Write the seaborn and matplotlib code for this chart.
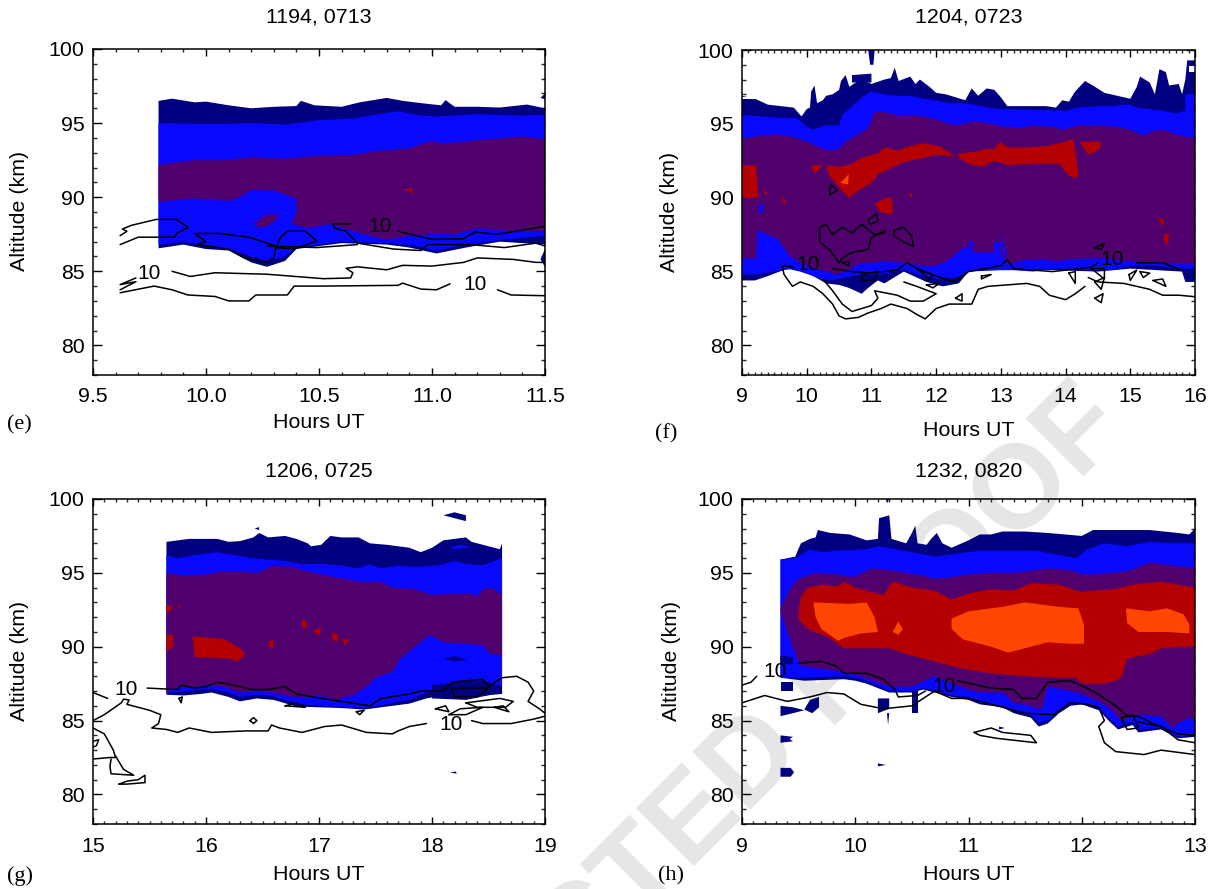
import matplotlib
matplotlib.use('Agg')
import matplotlib.pyplot as plt
import seaborn as sns

# values: (hours UT, altitude km)
navy = '#000080'
blue = '#0808ff'
purple = '#4f006c'
red = '#b40000'
orange = '#ff4500'

# ---- panel e
e_navy_top = [(9.79,96.5),(9.85,96.65),(9.95,96.4),(10.0,96.45),(10.1,96.2),(10.2,96.0),(10.3,96.1),(10.4,96.15),(10.42,96.5),(10.48,96.2),(10.6,96.1),(10.68,96.4),(10.8,96.7),(10.87,96.5),(10.95,96.35),(11.04,96.2),(11.06,96.55),(11.1,96.1),(11.2,96.1),(11.3,96.05),(11.42,96.25),(11.5,96.0)]
e_navy_bot = [(9.79,86.55),(9.9,86.8),(10.0,86.5),(10.1,86.4),(10.2,85.6),(10.27,85.3),(10.35,85.7),(10.4,86.5),(10.6,86.9),(10.8,86.8),(10.9,86.6),(11.02,86.2),(11.15,86.6),(11.3,87.0),(11.5,86.8)]
e_blue_top = [(9.79,95.0),(9.95,94.95),(10.1,94.95),(10.2,95.0),(10.35,94.9),(10.5,95.2),(10.65,95.3),(10.72,95.5),(10.85,95.8),(10.95,95.5),(11.03,95.45),(11.2,95.6),(11.4,95.5),(11.5,95.55)]
e_blue_bot = [(9.79,86.8),(9.9,87.0),(10.0,86.7),(10.1,86.5),(10.2,86.0),(10.27,85.7),(10.35,86.0),(10.4,86.6),(10.6,87.0),(10.8,86.9),(10.9,86.8),(11.02,86.4),(11.15,86.8),(11.3,87.1),(11.5,87.4)]
e_purple_top = [(9.79,92.2),(9.95,92.5),(10.1,92.5),(10.2,92.7),(10.35,92.6),(10.5,92.8),(10.65,92.85),(10.75,93.1),(10.9,93.3),(11.0,93.8),(11.05,93.6),(11.2,93.85),(11.4,94.1),(11.5,93.9)]
e_purple_bot = [(9.79,89.7),(9.95,89.9),(10.1,89.75),(10.15,90.0),(10.2,90.5),(10.3,90.45),(10.4,89.9),(10.4,89.0),(10.38,88.2),(10.45,87.9),(10.55,88.2),(10.65,87.7),(10.8,87.1),(10.9,87.4),(11.0,87.5),(11.1,87.5),(11.2,87.9),(11.35,87.7),(11.5,87.7)]
e_spots = [
    (purple, [(10.21,88.2),(10.27,88.85),(10.33,88.8),(10.29,88.2),(10.24,87.9)]),
    (red, [(10.87,90.5),(10.91,90.6),(10.92,90.2),(10.9,90.4)]),
    (navy, [(11.48,96.7),(11.5,97.0),(11.5,96.6)]),
    (navy, [(11.48,85.8),(11.5,86.5),(11.5,85.3)]),
]
e_lines = [
    [(9.62,86.8),(9.7,87.3),(9.86,87.3),(9.87,87.55),(9.92,87.95),(9.87,88.5),(9.78,88.5),(9.67,88.1),(9.63,87.85),(9.65,87.7),(9.62,87.4)],
    [(9.95,87.55),(10.0,87.0),(9.96,86.8),(10.1,86.5),(10.17,85.9),(10.27,85.6),(10.3,85.9),(10.31,86.7),(10.19,87.3),(10.06,87.55),(9.95,87.55)],
    [(10.64,88.2),(10.56,88.2),(10.57,87.9),(10.62,87.7),(10.67,86.9),(10.83,86.5),(10.95,86.4),(10.98,86.8),(11.17,86.8),(11.32,86.6),(11.46,86.9),(11.5,86.7)],
    [(10.33,87.3),(10.36,87.7),(10.44,87.7),(10.49,87.05),(10.39,86.5),(10.31,86.6),(10.33,87.3)],
    [(10.27,86.7),(10.49,86.6),(10.67,86.8)],
    [(10.85,87.7),(11.0,87.15),(11.14,87.2),(11.19,87.65),(11.29,87.5),(11.39,87.75),(11.5,88.05)],
    [(9.62,83.75),(9.69,84.3),(9.62,84.1),(9.69,84.55)],
    [(9.85,85.0),(9.93,84.65),(10.04,84.9),(10.27,84.8),(10.52,84.5),(10.64,84.55),(10.65,84.9),(10.62,85.2),(10.67,85.3),(10.8,85.1),(10.87,85.4),(11.0,85.35),(11.14,85.6),(11.2,85.9),(11.36,85.8),(11.46,85.6),(11.5,85.6)],
    [(9.62,83.55),(9.77,84.0),(9.85,83.75),(9.92,83.4),(10.04,83.3),(10.1,83.0),(10.19,83.0),(10.22,83.4),(10.36,83.4),(10.39,84.0),(10.51,84.0),(10.85,84.05),(10.87,84.2),(10.95,83.8),(11.02,83.75),(11.08,84.15)],
    [(11.29,83.75),(11.35,83.4),(11.5,83.35)],
]
e_labels = [(10.77,88.0),(9.75,84.85),(11.19,84.1)]

# ---- panel f
f_navy_top = [(9.0,96.9),(9.2,96.7),(9.4,96.3),(9.6,96.2),(9.8,96.1),(9.92,95.5),(10.0,96.0),(10.05,96.1),(10.07,97.2),(10.12,97.6),(10.16,96.4),(10.25,96.6),(10.3,96.9),(10.4,97.0),(10.5,97.3),(10.53,97.9),(10.6,98.3),(10.66,97.5),(10.72,97.7),(10.85,98.0),(11.0,97.7),(11.2,98.0),(11.3,98.1),(11.36,98.8),(11.42,97.9),(11.6,98.2),(11.68,97.7),(11.75,98.0),(11.9,97.5),(12.0,97.1),(12.15,97.0),(12.3,96.8),(12.45,96.6),(12.55,97.4),(12.65,96.9),(12.78,97.4),(12.9,97.3),(13.0,96.8),(13.1,96.2),(13.3,96.2),(13.7,96.2),(13.85,96.1),(13.95,96.6),(14.05,96.5),(14.15,97.2),(14.3,97.9),(14.42,97.6),(14.6,97.1),(14.8,96.9),(15.0,96.7),(15.1,97.5),(15.15,98.2),(15.3,97.8),(15.38,97.0),(15.45,98.7),(15.55,98.5),(15.6,97.6),(15.75,97.7),(15.8,97.0),(15.85,98.0),(15.88,99.3),(16.0,99.3)]
f_navy_bot = [(9.0,84.4),(9.2,84.4),(9.4,84.7),(9.7,85.2),(9.9,85.0),(10.1,84.7),(10.3,84.2),(10.5,84.1),(10.65,83.9),(10.85,83.5),(10.95,83.9),(11.1,84.4),(11.2,84.2),(11.5,85.0),(11.85,84.3),(12.1,84.0),(12.35,84.2),(12.5,85.0),(13.0,85.1),(13.8,85.1),(14.5,85.0),(15.0,85.2),(15.8,85.0),(15.85,84.3),(16.0,84.3)]
f_blue_top = [(9.0,95.6),(9.3,95.5),(9.6,95.4),(9.85,95.4),(10.0,94.8),(10.1,94.6),(10.3,94.9),(10.5,94.9),(10.55,95.6),(10.75,96.4),(10.85,96.8),(11.0,97.2),(11.2,97.0),(11.4,96.9),(11.6,96.9),(11.8,96.7),(12.0,96.6),(12.2,96.4),(12.4,96.4),(12.6,96.3),(12.8,96.1),(13.0,96.0),(13.2,96.0),(13.8,95.9),(14.0,95.9),(14.2,96.1),(14.5,96.2),(14.7,96.2),(14.9,96.3),(15.0,96.3),(15.1,96.1),(15.3,96.0),(15.5,95.9),(15.7,95.7),(15.85,95.9),(15.85,97.0),(16.0,97.0)]
f_blue_bot = [(9.0,84.8),(9.2,84.8),(9.5,85.0),(9.8,85.2),(10.0,84.9),(10.2,84.5),(10.4,84.4),(10.6,84.6),(10.85,84.8),(11.1,84.8),(11.5,85.1),(11.8,84.7),(12.05,84.5),(12.3,84.6),(12.5,85.0),(12.8,85.1),(13.2,85.1),(13.5,85.0),(13.8,85.2),(14.0,85.2),(14.4,85.1),(14.7,85.1),(15.0,85.4),(15.4,85.4),(15.8,85.2),(16.0,85.2)]
f_purple_top = [(9.0,94.0),(9.3,94.2),(9.55,94.3),(9.8,94.1),(10.0,93.8),(10.2,93.4),(10.35,93.2),(10.5,93.3),(10.6,93.8),(10.8,94.3),(10.95,94.7),(11.05,95.8),(11.2,95.8),(11.4,95.6),(11.6,95.6),(11.8,95.5),(12.0,95.3),(12.2,95.0),(12.35,94.9),(12.6,95.2),(12.85,95.0),(13.05,94.8),(13.3,94.7),(13.5,94.9),(13.8,94.8),(13.95,94.6),(14.2,94.9),(14.5,94.9),(14.8,94.8),(15.0,94.6),(15.2,94.2),(15.35,94.5),(15.5,94.6),(15.7,94.3),(15.85,94.1),(16.0,94.1)]
f_purple_bot = [(9.0,85.9),(9.22,85.9),(9.24,87.8),(9.4,87.5),(9.55,87.2),(9.75,86.0),(9.9,85.6),(10.1,85.2),(10.3,85.0),(10.45,84.8),(10.6,85.0),(10.8,85.5),(11.0,85.6),(11.2,85.7),(11.5,85.6),(11.8,85.4),(12.0,85.4),(12.2,85.8),(12.3,86.2),(12.45,86.7),(12.6,86.3),(12.8,86.3),(13.0,86.3),(13.1,85.5),(13.2,85.6),(13.4,85.8),(13.7,85.8),(13.9,85.7),(14.0,85.8),(14.4,85.9),(14.6,85.9),(14.9,85.7),(15.2,85.7),(15.5,85.6),(15.8,85.5),(16.0,85.5)]
f_spots = [
    (red, [(10.3,92.2),(10.5,92.1),(10.7,92.3),(10.85,92.7),(11.1,93.0),(11.2,93.4),(11.4,93.2),(11.6,93.5),(11.8,93.7),(11.9,93.6),(12.05,93.5),(12.15,93.2),(12.3,92.8),(12.0,92.9),(11.7,92.6),(11.5,92.4),(11.3,92.0),(11.1,91.6),(11.0,91.0),(10.8,90.5),(10.65,90.0),(10.5,90.7),(10.35,91.5)]),
    (red, [(12.35,93.0),(12.6,93.1),(12.75,93.3),(12.9,93.3),(13.0,93.8),(13.1,93.4),(13.4,93.4),(13.7,93.5),(14.0,93.8),(14.12,94.0),(14.18,92.2),(14.2,91.5),(14.15,91.3),(14.05,91.5),(13.9,92.3),(13.5,92.3),(13.1,92.2),(12.9,92.5),(12.7,92.1),(12.5,92.3),(12.35,92.7)]),
    (red, [(9.0,92.2),(9.22,92.2),(9.25,90.0),(9.0,90.0)]),
    (red, [(10.07,92.2),(10.25,92.2),(10.12,91.6)]),
    (red, [(11.05,89.6),(11.25,90.0),(11.32,90.0),(11.33,88.9),(11.15,89.0)]),
    (red, [(14.22,93.8),(14.55,93.8),(14.53,93.3),(14.35,92.9)]),
    (red, [(9.33,90.6),(9.4,90.3),(9.35,90.2)]),
    (red, [(9.6,90.2),(9.68,89.7),(9.65,89.5)]),
    (red, [(15.43,88.7),(15.52,88.5),(15.5,88.0)]),
    (red, [(15.52,87.6),(15.6,87.5),(15.57,86.8),(15.53,86.9)]),
    (red, [(11.58,90.3),(11.64,90.2),(11.6,90.0)]),
    (orange, [(10.52,91.0),(10.65,91.6),(10.64,90.9)]),
    (blue, [(9.27,89.6),(9.33,89.6),(9.33,89.0),(9.27,89.0)]),
    (blue, [(12.5,87.1),(12.57,87.1),(12.57,86.3),(12.5,86.3)]),
    (blue, [(12.9,87.0),(13.0,87.0),(13.0,86.3),(12.9,86.3)]),
    (blue, [(13.0,87.7),(13.05,86.0),(13.1,86.0)]),
    (navy, [(10.95,100.0),(11.05,100.0),(11.03,99.0),(10.98,99.0)]),
    (navy, [(10.7,98.3),(11.0,98.4),(11.0,97.8),(10.7,97.8)]),
    ('white', [(9.0,96.85),(9.2,96.85),(9.2,96.65),(9.0,96.65)]),
    ('white', [(15.9,98.9),(16.0,98.9),(16.0,98.5),(15.9,98.5)]),
]
f_lines = [
    [(9.62,85.4),(9.65,84.8),(9.78,84.0),(9.9,84.3),(10.1,84.0),(10.25,83.5),(10.4,82.8),(10.5,82.0),(10.6,81.8),(10.8,81.9),(10.95,82.2),(11.15,82.5),(11.3,82.8),(11.55,82.5),(11.7,82.1),(11.83,81.8),(12.0,82.5),(12.2,82.8),(12.55,82.8),(12.65,83.8),(12.8,84.0),(13.1,84.1),(13.4,84.2),(13.6,84.0),(13.75,83.4),(14.0,83.1),(14.15,83.5),(14.3,84.0)],
    [(14.35,84.6),(14.5,84.3),(14.9,84.2),(15.1,84.0),(15.3,83.8),(15.5,83.4),(15.75,83.4),(16.0,83.3)],
    [(9.62,85.4),(9.8,85.3)],
    [(10.4,85.2),(10.7,85.0),(11.0,84.9),(11.4,85.1),(11.55,85.6),(11.8,85.0),(12.0,84.7),(12.3,84.3),(12.5,85.0),(13.0,85.4),(13.1,85.8),(13.2,85.2),(13.8,85.0),(14.2,85.2),(14.4,85.3),(14.5,85.6)],
    [(15.1,85.6),(15.5,85.6),(15.8,85.1)],
    [(10.25,84.5),(10.4,83.7),(10.55,82.8),(10.7,82.3),(11.0,82.7),(11.1,83.2),(11.05,83.7),(11.4,83.4),(11.6,83.0),(11.8,83.0),(12.0,83.5),(11.7,84.0),(11.5,84.3)],
    [(10.5,85.6),(10.35,86.5),(10.2,87.0),(10.2,88.0),(10.3,88.2),(10.4,87.5),(10.55,88.0),(10.7,87.6),(10.85,88.2),(11.05,87.5),(11.2,87.6),(11.22,87.8),(11.0,87.3),(10.95,86.5),(10.7,86.3),(10.55,85.9),(10.5,85.6)],
    [(11.35,87.8),(11.5,88.0),(11.62,87.4),(11.65,86.7),(11.5,87.0),(11.35,87.4),(11.35,87.8)],
    [(10.95,88.5),(11.08,88.9),(11.1,88.4),(10.98,88.2),(10.95,88.5)],
    [(10.35,90.5),(10.38,90.9),(10.47,90.5),(10.36,90.2),(10.35,90.5)],
    [(10.55,85.6),(10.65,85.7),(10.65,85.4),(10.55,85.6)],
    [(10.85,84.8),(11.1,85.0),(11.05,84.4),(10.85,84.4),(10.85,84.8)],
    [(11.7,85.2),(11.95,84.8),(11.9,84.5),(11.7,85.2)],
    [(11.85,84.1),(12.05,84.2),(11.95,83.9),(11.85,84.1)],
    [(12.3,83.2),(12.4,83.5),(12.4,83.0),(12.3,83.2)],
    [(12.7,84.7),(12.85,84.8),(12.7,84.5),(12.7,84.7)],
    [(14.05,84.9),(14.15,85.0),(14.15,84.2),(14.05,84.9)],
    [(14.4,85.2),(14.6,85.2),(14.6,84.5),(14.4,85.2)],
    [(14.45,84.3),(14.6,84.6),(14.55,83.8),(14.45,84.3)],
    [(14.45,83.2),(14.58,83.5),(14.55,82.9),(14.45,83.2)],
    [(14.45,86.6),(14.6,86.9),(14.55,86.5),(14.45,86.6)],
    [(14.98,84.8),(15.1,85.1),(15.0,84.4),(14.98,84.8)],
    [(15.15,85.0),(15.3,84.9),(15.2,84.6),(15.15,85.0)],
    [(15.35,84.4),(15.5,84.5),(15.55,84.0),(15.35,84.4)],
]
f_labels = [(10.02,85.45),(14.72,85.85)]

# ---- panel g
g_navy_top = [(15.65,97.1),(15.75,97.2),(15.85,97.3),(16.0,97.3),(16.1,97.3),(16.2,97.1),(16.3,97.15),(16.42,97.4),(16.47,97.7),(16.55,97.4),(16.7,97.5),(16.8,97.3),(16.9,97.0),(16.93,96.8),(17.02,96.9),(17.1,97.5),(17.2,97.4),(17.35,97.4),(17.45,97.0),(17.6,96.9),(17.8,96.7),(17.9,96.4),(18.0,96.7),(18.1,97.2),(18.2,97.3),(18.3,97.4),(18.35,97.1),(18.5,96.8),(18.6,96.6),(18.62,97.0)]
g_navy_bot = [(15.65,86.75),(15.8,86.7),(15.95,86.8),(16.05,86.9),(16.2,86.6),(16.3,86.3),(16.45,86.5),(16.6,86.4),(16.8,85.95),(17.0,85.9),(17.2,85.85),(17.4,85.75),(17.6,85.95),(17.8,86.15),(17.95,86.5),(18.1,86.7),(18.3,86.6),(18.62,86.8)]
g_blue_top = [(15.65,96.2),(15.75,96.0),(15.9,96.2),(16.1,96.4),(16.25,96.2),(16.4,96.0),(16.55,95.9),(16.7,95.8),(16.85,95.6),(17.05,95.6),(17.2,95.5),(17.35,95.3),(17.45,95.6),(17.55,95.3),(17.7,95.5),(17.85,95.4),(18.05,95.5),(18.2,95.8),(18.3,95.6),(18.45,95.5),(18.62,96.0)]
g_blue_bot = [(15.65,86.85),(15.8,86.95),(15.95,87.1),(16.05,87.15),(16.2,86.9),(16.3,86.6),(16.45,86.75),(16.6,86.65),(16.8,86.15),(17.0,86.0),(17.2,85.9),(17.4,85.85),(17.6,86.1),(17.8,86.4),(17.95,86.9),(18.1,87.0),(18.3,87.3),(18.62,87.4)]
g_purple_top = [(15.65,95.0),(15.8,94.8),(16.0,94.9),(16.15,95.1),(16.3,95.1),(16.45,95.0),(16.6,95.5),(16.75,95.4),(16.95,95.0),(17.15,94.7),(17.35,94.4),(17.55,94.4),(17.65,94.0),(17.85,93.9),(18.0,93.5),(18.2,93.6),(18.35,93.6),(18.4,93.4),(18.47,94.0),(18.55,93.9),(18.62,93.5)]
g_purple_bot = [(15.65,86.9),(15.75,87.3),(15.85,87.2),(16.0,87.4),(16.15,87.3),(16.3,86.9),(16.45,87.0),(16.6,86.9),(16.75,86.6),(16.9,86.6),(17.0,86.7),(17.15,86.4),(17.3,86.7),(17.42,87.3),(17.5,87.9),(17.65,88.3),(17.72,89.2),(17.85,90.0),(17.98,90.8),(18.1,90.3),(18.3,90.2),(18.45,90.1),(18.52,89.5),(18.62,89.4)]
g_spots = [
    (red, [(15.65,92.8),(15.69,92.8),(15.7,92.5),(15.65,92.3)]),
    (red, [(15.65,90.8),(15.71,90.8),(15.71,90.0),(15.65,89.7)]),
    (red, [(15.88,90.7),(16.05,90.6),(16.17,90.5),(16.3,89.9),(16.35,89.5),(16.28,89.0),(16.2,89.2),(15.9,89.3)]),
    (red, [(15.75,92.85),(15.78,92.8),(15.76,92.6)]),
    (red, [(16.85,91.8),(16.88,91.8),(16.9,91.3),(16.85,91.3)]),
    (red, [(16.95,91.1),(17.02,91.3),(17.0,90.7)]),
    (red, [(17.12,91.0),(17.17,90.8),(17.16,90.3),(17.12,90.5)]),
    (red, [(17.2,90.5),(17.27,90.5),(17.23,90.1)]),
    (red, [(16.55,90.4),(16.6,90.4),(16.6,89.9),(16.56,90.0)]),
    (navy, [(18.1,89.2),(18.2,89.35),(18.31,89.1),(18.2,89.0)]),
    (navy, [(18.1,98.9),(18.2,99.1),(18.3,98.9),(18.3,98.5),(18.2,98.7)]),
    (navy, [(18.16,81.5),(18.21,81.55),(18.22,81.4)]),
    (navy, [(16.43,98.0),(16.47,98.1),(16.47,97.9)]),
    (navy, [(18.0,87.4),(18.25,87.6),(18.45,87.7),(18.62,87.3),(18.62,86.9),(18.3,86.4),(18.0,86.5)]),
    (blue, [(18.15,96.7),(18.25,96.9),(18.35,96.75),(18.2,96.6)]),
]
g_lines = [
    [(15.48,87.2),(15.75,87.1),(15.78,87.4),(15.9,87.2),(16.0,87.3),(16.1,87.6),(16.25,87.4),(16.4,87.1),(16.55,87.1),(16.7,87.3),(16.8,86.8),(16.95,86.6),(17.45,86.0),(17.55,86.5),(17.8,86.8),(17.9,87.0),(18.1,87.0),(18.18,87.6),(18.45,87.8),(18.5,87.3),(18.62,87.9),(18.75,88.0),(18.85,87.6),(18.9,87.0),(18.85,86.3),(18.95,85.8),(19.0,85.5)],
    [(15.0,85.0),(15.1,85.4),(15.25,86.2),(15.27,86.45),(15.32,86.4),(15.3,86.1),(15.5,85.7),(15.6,85.4),(15.58,84.8),(15.52,84.5),(15.65,84.4),(15.75,84.2),(15.85,84.5),(16.05,84.2),(16.35,84.3),(16.55,84.3),(16.58,84.7),(16.65,84.5),(16.85,84.2),(17.05,84.6),(17.2,84.7),(17.42,84.2),(17.65,84.1),(17.7,84.3),(17.8,84.6),(17.95,84.8)],
    [(18.35,85.0),(18.45,84.8),(18.7,84.8),(18.9,85.1),(19.0,85.3)],
    [(15.0,86.9),(15.13,86.5)],
    [(15.0,84.5),(15.1,84.1),(15.18,83.0),(15.2,82.5),(15.15,82.5),(15.0,82.4)],
    [(15.2,82.6),(15.27,81.7),(15.36,81.3),(15.16,81.4),(15.15,81.9),(15.16,82.4)],
    [(15.23,80.7),(15.3,80.9),(15.4,81.0),(15.46,81.3),(15.46,80.8),(15.3,80.7),(15.23,80.7)],
    [(15.0,83.6),(15.05,83.7),(15.03,83.3),(15.0,83.2)],
    [(15.76,86.5),(15.79,86.6),(15.78,86.2),(15.76,86.5)],
    [(16.39,85.0),(16.42,85.2),(16.45,85.0),(16.42,84.8),(16.39,85.0)],
    [(16.7,86.0),(16.8,86.2),(16.88,85.9),(16.7,86.0)],
    [(17.33,85.6),(17.4,85.7),(17.36,85.4),(17.33,85.6)],
    [(18.03,85.8),(18.12,86.0),(18.15,85.6),(18.03,85.8)],
    [(18.15,85.4),(18.25,85.8),(18.45,85.9),(18.3,85.4),(18.15,85.4)],
    [(18.3,86.2),(18.6,86.5),(18.72,86.3),(18.65,85.9),(18.4,85.9),(18.3,86.2)],
    [(18.55,85.9),(18.63,86.0),(18.68,85.6),(18.55,85.9)],
    [(18.2,86.6),(18.17,87.2),(18.5,87.2),(18.4,86.6),(18.2,86.6)],
]
g_labels = [(15.29,87.1),(18.17,84.75)]

# ---- panel h
h_navy_top = [(9.34,95.9),(9.47,96.1),(9.52,97.0),(9.6,97.3),(9.65,97.4),(9.67,97.9),(9.78,97.7),(9.95,97.6),(10.1,97.2),(10.2,97.3),(10.21,98.7),(10.3,98.9),(10.32,97.3),(10.45,97.0),(10.5,97.7),(10.53,98.2),(10.55,97.0),(10.63,96.9),(10.67,97.3),(10.72,97.7),(10.77,97.0),(10.85,96.7),(11.0,97.2),(11.1,97.6),(11.2,97.6),(11.3,97.8),(11.5,97.8),(11.7,97.7),(12.0,97.5),(12.1,97.9),(12.3,97.9),(12.6,97.9),(12.85,97.7),(12.95,97.6),(13.0,98.0)]
h_navy_bot = [(9.34,87.9),(9.55,87.7),(9.9,87.8),(10.0,87.7),(10.1,87.5),(10.3,86.9),(10.5,86.9),(10.6,87.1),(10.7,86.9),(10.85,86.6),(11.0,86.4),(11.1,86.1),(11.3,85.9),(11.4,85.5),(11.55,85.2),(11.62,84.6),(11.7,84.8),(11.8,85.5),(11.9,86.0),(12.0,86.1),(12.15,85.7),(12.25,84.9),(12.32,84.4),(12.45,84.7),(12.5,84.2),(12.7,84.4),(12.85,83.8),(13.0,83.9)]
h_blue_top = [(9.34,95.9),(9.48,96.0),(9.6,96.6),(9.7,96.4),(9.85,96.5),(10.1,96.6),(10.2,96.8),(10.5,96.4),(10.7,96.1),(10.9,96.3),(11.1,96.5),(11.4,96.5),(11.6,96.5),(11.8,96.2),(11.95,96.0),(12.05,96.6),(12.2,97.0),(12.4,96.8),(12.6,97.1),(12.8,97.0),(13.0,97.0)]
h_blue_bot = [(9.34,87.9),(9.55,87.9),(9.9,88.0),(10.0,87.9),(10.1,87.7),(10.3,87.0),(10.5,87.0),(10.6,87.2),(10.7,87.0),(10.85,86.7),(11.0,86.6),(11.1,86.2),(11.3,86.0),(11.4,85.7),(11.55,85.4),(11.62,84.9),(11.7,85.0),(11.8,85.7),(11.9,86.1),(12.0,86.2),(12.15,85.9),(12.25,85.1),(12.32,84.6),(12.45,84.9),(12.5,84.4),(12.7,84.5),(12.85,83.9),(13.0,84.0)]
h_purple_top = [(9.34,92.6),(9.43,94.0),(9.5,94.6),(9.65,95.0),(9.85,94.9),(9.98,94.7),(10.15,95.3),(10.3,95.2),(10.45,95.0),(10.6,94.8),(10.7,94.6),(10.85,94.7),(11.0,94.9),(11.2,95.0),(11.4,95.0),(11.7,95.3),(11.9,95.2),(12.0,94.9),(12.1,94.9),(12.25,95.0),(12.4,95.1),(12.6,95.7),(12.8,95.5),(13.0,95.3)]
h_purple_bot = [(9.34,92.4),(9.4,91.0),(9.47,89.5),(9.52,88.7),(9.9,88.3),(10.05,88.0),(10.3,87.3),(10.5,87.3),(10.7,88.0),(10.85,87.5),(11.0,87.1),(11.1,86.9),(11.3,86.9),(11.4,86.2),(11.55,86.0),(11.6,85.8),(11.65,85.8),(11.7,87.3),(11.9,87.0),(12.0,86.8),(12.15,86.3),(12.25,85.8),(12.35,85.0),(12.5,85.4),(12.7,85.3),(12.8,84.5),(12.85,84.8),(12.95,85.2),(13.0,84.9)]
h_red_top = [(9.5,92.5),(9.52,93.4),(9.58,94.0),(9.7,94.2),(9.85,94.1),(9.9,94.4),(10.0,94.0),(10.15,93.7),(10.25,93.5),(10.33,94.4),(10.5,94.0),(10.7,93.8),(10.85,93.2),(11.0,93.6),(11.2,93.9),(11.4,93.8),(11.55,94.3),(11.8,94.2),(12.0,93.7),(12.1,93.8),(12.3,93.9),(12.45,94.2),(12.7,94.4),(12.85,94.2),(13.0,94.0)]
h_red_bot = [(9.5,91.8),(9.6,91.1),(9.75,90.7),(9.9,89.9),(10.1,89.9),(10.3,89.9),(10.45,89.5),(10.7,89.0),(10.95,88.5),(11.2,88.2),(11.5,88.0),(11.8,87.9),(11.95,87.9),(12.0,87.5),(12.2,87.5),(12.3,87.7),(12.35,87.9),(12.4,89.2),(12.6,89.5),(12.7,89.9),(12.9,90.0),(13.0,90.0)]
h_spots = [
    (orange, [(9.63,93.0),(9.95,92.9),(10.1,93.0),(10.17,92.0),(10.2,91.0),(10.05,90.9),(9.9,90.6),(9.85,90.4),(9.7,91.2),(9.65,92.0)]),
    (orange, [(10.33,91.0),(10.38,91.7),(10.42,91.2),(10.38,90.8)]),
    (orange, [(10.85,91.9),(11.0,92.4),(11.3,92.7),(11.5,93.0),(11.8,92.7),(11.97,92.6),(12.02,91.5),(12.02,90.2),(11.9,90.2),(11.7,90.3),(11.55,90.0),(11.35,89.6),(11.2,90.0),(10.95,90.5),(10.85,91.2)]),
    (orange, [(12.39,92.6),(12.6,92.4),(12.75,92.6),(12.9,92.2),(12.95,91.5),(12.95,90.9),(12.75,91.0),(12.5,91.0),(12.4,91.6)]),
    (navy, [(9.34,89.4),(9.45,89.3),(9.45,88.8),(9.34,88.8)]),
    (navy, [(9.34,87.6),(9.45,87.6),(9.45,87.0),(9.34,87.0)]),
    (navy, [(9.34,86.0),(9.45,85.9),(9.55,85.7),(9.45,85.5),(9.34,85.3)]),
    (navy, [(9.34,84.0),(9.45,83.9),(9.42,83.75),(9.45,83.6),(9.34,83.5)]),
    (navy, [(9.34,81.8),(9.43,81.8),(9.46,81.5),(9.43,81.2),(9.34,81.2)]),
    (navy, [(9.55,85.75),(9.6,86.4),(9.68,86.6),(9.68,85.9),(9.62,85.5)]),
    (navy, [(10.2,86.5),(10.3,86.5),(10.3,85.8),(10.2,85.5)]),
    (navy, [(10.5,87.0),(10.55,87.0),(10.55,85.5),(10.5,85.5)]),
    (navy, [(10.2,82.1),(10.27,82.0),(10.2,81.9)]),
    (navy, [(10.28,85.5),(10.3,85.5),(10.29,84.7)]),
    (navy, [(11.27,84.6),(11.32,84.5),(11.27,84.4)]),
    (navy, [(11.26,88.0),(11.33,87.8),(11.26,87.9)]),
    (navy, [(10.27,100.0),(10.3,100.0),(10.28,99.7)]),
]
h_lines = [
    [(9.0,87.4),(9.08,87.6),(9.13,88.0)],
    [(9.5,88.9),(9.7,89.0),(9.83,88.7),(9.9,88.2),(10.1,88.2),(10.25,87.8),(10.35,87.1),(10.38,86.6),(10.55,86.7),(10.62,87.0)],
    [(10.9,87.7),(11.2,87.2),(11.4,87.1),(11.47,86.5),(11.6,86.5),(11.7,87.6),(11.9,87.7),(12.1,87.0),(12.3,86.0),(12.4,85.3),(12.5,85.3),(12.6,84.9),(12.85,84.1),(13.0,84.0)],
    [(9.0,86.2),(9.2,86.7),(9.4,86.3),(9.6,86.6),(9.75,86.9),(9.9,86.8),(10.05,86.1),(10.25,85.8),(10.5,86.0),(10.6,86.5),(10.7,87.0),(10.85,86.5),(11.0,86.5),(11.2,86.1),(11.4,85.7),(11.5,85.5),(11.75,85.4),(11.9,86.2),(12.05,86.1),(12.15,85.9),(12.2,85.0),(12.15,84.6),(12.2,83.5),(12.3,82.9),(12.55,82.7),(12.7,83.0),(13.0,82.7)],
    [(12.5,84.9),(12.7,84.6),(12.85,83.7),(13.0,83.5)],
    [(11.05,84.2),(11.2,84.5),(11.3,84.2),(11.55,84.0),(11.6,83.5),(11.48,83.6),(11.25,83.8),(11.1,84.0),(11.05,84.2)],
    [(12.35,85.2),(12.45,85.4),(12.5,84.5),(12.4,84.4),(12.35,85.2)],
]
h_labels = [(9.29,88.3),(10.78,87.3)]

panels = [
    ('1194, 0713', '(e)', (93, 49, 545, 375), (9.5, 11.5), [9.5, 10.0, 10.5, 11.0, 11.5], e_navy_top, e_navy_bot, e_blue_top, e_blue_bot, e_purple_top, e_purple_bot, None, None, e_spots, e_lines, e_labels),
    ('1204, 0723', '(f)', (742, 50, 1195, 375), (9, 16), [9, 10, 11, 12, 13, 14, 15, 16], f_navy_top, f_navy_bot, f_blue_top, f_blue_bot, f_purple_top, f_purple_bot, None, None, f_spots, f_lines, f_labels),
    ('1206, 0725', '(g)', (93, 499, 545, 824), (15, 19), [15, 16, 17, 18, 19], g_navy_top, g_navy_bot, g_blue_top, g_blue_bot, g_purple_top, g_purple_bot, None, None, g_spots, g_lines, g_labels),
    ('1232, 0820', '(h)', (742, 499, 1195, 824), (9, 13), [9, 10, 11, 12, 13], h_navy_top, h_navy_bot, h_blue_top, h_blue_bot, h_purple_top, h_purple_bot, h_red_top, h_red_bot, h_spots, h_lines, h_labels),
]
letter_spots = [(7, 425), (655, 434), (7, 876), (658, 876)]
xlabel_rows = [423, 431, 874, 874]
ylabel_cols = [20, 669, 20, 671]

sns.set_style('ticks')
plt.rcParams['font.family'] = ['Liberation Sans', 'DejaVu Sans']

W, H = 1218, 889
fig = plt.figure(figsize=(W / 100, H / 100), dpi=100)
# watermark goes behind the axes, which stay see-through
fig.text(1130 / W, 1 - 430 / H, 'UNCORRECTED PROOF', fontsize=86, fontweight='bold', color='#e6e6e6', rotation=45,
         rotation_mode='anchor', ha='right', va='baseline', zorder=-1)


def fill_band(ax, top, bottom, color, order):
    xs = [p[0] for p in top] + [p[0] for p in bottom[::-1]]
    ys = [p[1] for p in top] + [p[1] for p in bottom[::-1]]
    ax.fill(xs, ys, color=color, lw=0, zorder=order)


for i, panel in enumerate(panels):
    title, letter, box, xlim, xticks = panel[:5]
    navy_top, navy_bot, blue_top, blue_bot, purple_top, purple_bot, red_top, red_bot, spots, lines, labels = panel[5:]
    left, top, right, bottom = box
    ax = fig.add_axes([left / W, 1 - bottom / H, (right - left) / W, (bottom - top) / H])
    ax.patch.set_alpha(0)
    fill_band(ax, navy_top, navy_bot, navy, 1)
    fill_band(ax, blue_top, blue_bot, blue, 2)
    fill_band(ax, purple_top, purple_bot, purple, 3)
    if red_top:
        fill_band(ax, red_top, red_bot, red, 4)
    for color, outline in spots:
        ax.fill([p[0] for p in outline], [p[1] for p in outline], color=color, lw=0, zorder=5)
    for line in lines:
        sns.lineplot(x=[p[0] for p in line], y=[p[1] for p in line], sort=False, estimator=None,
                     color='black', lw=1.1, ax=ax, legend=False, zorder=6)
    for x, y in labels:
        ax.text(x, y, '10', fontsize=15, ha='center', va='center', color='black', zorder=7)

    ax.set_xlim(xlim)
    ax.set_ylim(78, 100)
    ax.set_xticks(xticks)
    ax.set_xticklabels([str(t) for t in xticks])
    ax.set_yticks([80, 85, 90, 95, 100])
    ax.set_xticks([t / 10 for t in range(int(xlim[0] * 10), int(xlim[1] * 10) + 1)], minor=True)
    ax.set_yticks(list(range(78, 101)), minor=True)
    ax.tick_params(axis='x', which='major', direction='in', length=5, width=1, top=True, labelsize=15.4, pad=9, color='black', labelcolor='black')
    ax.tick_params(axis='y', which='major', direction='in', length=6.5, width=1, right=True, labelsize=15.4, pad=6, color='black', labelcolor='black')
    ax.tick_params(axis='x', which='minor', direction='in', length=2.5, width=1, top=True)
    ax.tick_params(axis='y', which='minor', direction='in', length=3, width=1, right=True)
    for side in ax.spines.values():
        side.set_visible(True)
        side.set_linewidth(1.1)
        side.set_color('black')
        side.set_zorder(8)
    fig.text((left + right) / 2 / W, 1 - (17 if i < 2 else 471) / H, title, fontsize=15.4, color='black', ha='center', va='center')
    fig.text((left + right) / 2 / W, 1 - xlabel_rows[i] / H, 'Hours UT', fontsize=15.4, color='black', ha='center', va='center')
    fig.text(ylabel_cols[i] / W, 1 - (top + bottom - 2) / 2 / H, 'Altitude (km)', fontsize=15.4, color='black', rotation=90, ha='center', va='center')
    fig.text(letter_spots[i][0] / W, 1 - letter_spots[i][1] / H, letter, fontsize=16, family='Liberation Serif', color='black', ha='left', va='center')

fig.savefig('out.png', dpi=100)
